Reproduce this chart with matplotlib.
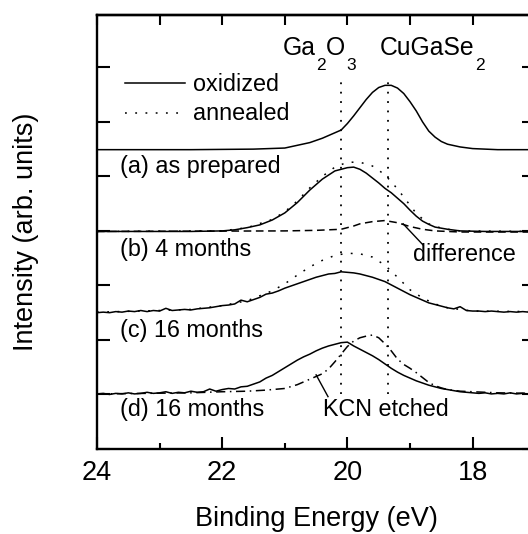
import matplotlib
matplotlib.use('Agg')
import matplotlib.pyplot as plt
from matplotlib.ticker import MultipleLocator, NullFormatter

plt.rcParams['font.family'] = ['Liberation Sans', 'DejaVu Sans']

# (a) as prepared, oxidized
e_a = [24.0, 22.5, 21.5, 21.0, 20.8, 20.6, 20.4, 20.2, 20.1, 20.0, 19.9, 19.8, 19.7, 19.6,
       19.5, 19.4, 19.3, 19.2, 19.1, 19.0, 18.9, 18.8, 18.7, 18.6, 18.5, 18.4, 18.2, 18.0,
       17.6, 17.0]
i_a = [5.49, 5.49, 5.50, 5.52, 5.57, 5.62, 5.70, 5.80, 5.85, 5.97, 6.11, 6.26, 6.41, 6.54,
       6.63, 6.67, 6.67, 6.62, 6.52, 6.37, 6.20, 6.00, 5.83, 5.72, 5.64, 5.59, 5.54, 5.51,
       5.49, 5.49]

# (b) 4 months: oxidized, annealed and their difference
e_b_ox = [24.0, 22.5, 22.0, 21.8, 21.6, 21.4, 21.2, 21.0, 20.8, 20.6, 20.4, 20.2, 20.0, 19.9,
          19.8, 19.7, 19.6, 19.5, 19.4, 19.3, 19.2, 19.1, 19.0, 18.9, 18.8, 18.7, 18.6, 18.4,
          18.2, 17.8, 17.0]
i_b_ox = [3.99, 3.99, 4.00, 4.02, 4.06, 4.11, 4.20, 4.33, 4.52, 4.75, 4.95, 5.10, 5.16, 5.17,
          5.13, 5.06, 4.97, 4.88, 4.78, 4.70, 4.60, 4.50, 4.38, 4.27, 4.18, 4.12, 4.07, 4.03,
          4.00, 3.99, 3.99]
e_b_an = [24.0, 22.0, 21.6, 21.2, 21.0, 20.8, 20.6, 20.4, 20.2, 20.0, 19.8, 19.6, 19.4, 19.2,
          19.0, 18.9, 18.8, 18.7, 18.6, 18.4, 18.2, 17.0]
i_b_an = [3.99, 4.00, 4.06, 4.21, 4.35, 4.55, 4.79, 5.00, 5.17, 5.26, 5.26, 5.19, 5.03, 4.77,
          4.47, 4.32, 4.22, 4.13, 4.08, 4.03, 4.00, 3.99]
e_b_diff = [24.0, 21.0, 20.5, 20.1, 19.9, 19.8, 19.6, 19.4, 19.2, 19.0, 18.8, 18.6, 18.2, 17.0]
i_b_diff = [3.99, 4.00, 4.01, 4.03, 4.09, 4.13, 4.17, 4.19, 4.15, 4.08, 4.03, 4.00, 3.98, 3.98]

# (c) 16 months, 0.1 eV steps from 24.0 down to 17.0
e_c = [round(24.0 - 0.1 * k, 1) for k in range(71)]
i_c_ox = [2.50, 2.51, 2.50, 2.52, 2.51, 2.53, 2.52, 2.54, 2.52, 2.54,
          2.53, 2.58, 2.54, 2.55, 2.56, 2.55, 2.57, 2.58, 2.59, 2.61,
          2.63, 2.64, 2.66, 2.73, 2.70, 2.74, 2.78, 2.84, 2.86, 2.90,
          2.95, 2.99, 3.03, 3.07, 3.11, 3.15, 3.18, 3.21, 3.22, 3.25,
          3.24, 3.23, 3.21, 3.18, 3.15, 3.11, 3.07, 3.01, 2.95, 2.89,
          2.83, 2.78, 2.73, 2.68, 2.65, 2.62, 2.59, 2.57, 2.61, 2.54,
          2.53, 2.53, 2.52, 2.53, 2.52, 2.51, 2.52, 2.51, 2.52, 2.51,
          2.52]
e_c_an = [24.0, 23.0, 22.5, 22.0, 21.6, 21.4, 21.2, 21.0, 20.8, 20.6, 20.4, 20.2, 20.0, 19.8,
          19.6, 19.4, 19.2, 19.0, 18.8, 18.6, 18.4, 18.0, 17.0]
i_c_an = [2.51, 2.54, 2.56, 2.63, 2.72, 2.81, 2.90, 3.03, 3.19, 3.34, 3.46, 3.55, 3.59, 3.58,
          3.52, 3.37, 3.15, 2.92, 2.77, 2.66, 2.59, 2.53, 2.52]

# (d) 16 months, oxidized and KCN etched
i_d_ox = [1.01, 1.02, 1.00, 1.02, 1.01, 1.03, 1.01, 1.02, 1.04, 1.02,
          1.03, 1.05, 1.02, 1.04, 1.03, 1.06, 1.04, 1.05, 1.10, 1.06,
          1.09, 1.11, 1.10, 1.14, 1.15, 1.19, 1.23, 1.30, 1.35, 1.42,
          1.49, 1.56, 1.63, 1.69, 1.74, 1.80, 1.85, 1.89, 1.92, 1.95,
          1.96, 1.89, 1.83, 1.77, 1.71, 1.64, 1.56, 1.48, 1.41, 1.35,
          1.30, 1.25, 1.21, 1.17, 1.14, 1.11, 1.09, 1.07, 1.05, 1.04,
          1.03, 1.02, 1.03, 1.01, 1.02, 1.01, 1.03, 1.01, 1.02, 1.00,
          1.01]
e_d_kcn = [24.0, 22.5, 22.0, 21.6, 21.3, 21.0, 20.8, 20.6, 20.4, 20.3, 20.2, 20.1, 20.0, 19.9,
           19.8, 19.7, 19.6, 19.5, 19.4, 19.3, 19.2, 19.1, 19.0, 18.9, 18.8, 18.7, 18.6, 18.5,
           18.4, 18.2, 18.0, 17.6, 17.0]
i_d_kcn = [1.01, 1.03, 1.05, 1.06, 1.08, 1.11, 1.18, 1.28, 1.38, 1.47, 1.60, 1.74, 1.88, 1.98,
           2.04, 2.07, 2.09, 2.04, 1.93, 1.80, 1.65, 1.55, 1.48, 1.40, 1.31, 1.22, 1.16, 1.12,
           1.09, 1.06, 1.05, 1.03, 1.02]

# reference peak positions
ga2o3_pos = 20.1
cugase2_pos = 19.35

dotted = (0, (1.2, 5.5))
fs = 16.8


def formula(ax, x, y, parts, size=17.8, subsize=12.5, drop=10.5):
    """Write a chemical formula piece by piece with deep subscripts."""
    prev = ax.text(x, y, parts[0], fontsize=size, va='baseline')
    for k, s in enumerate(parts[1:]):
        sub = k % 2 == 0
        prev = ax.annotate(s, xy=(1, y), xycoords=(prev, 'data'),
                           xytext=(0.8 if sub else 0.2, -drop if sub else 0),
                           textcoords='offset points', va='baseline', ha='left',
                           fontsize=subsize if sub else size)


fig = plt.figure(figsize=(5.28, 5.34), dpi=100)
ax = fig.add_axes([0.1837, 0.1592, 0.830, 0.8127])

ax.plot(e_a, i_a, color='k', lw=1.1)
ax.plot(e_b_ox, i_b_ox, color='k', lw=1.1)
ax.plot(e_b_an, i_b_an, color='k', lw=1.1, linestyle=dotted)
ax.plot(e_b_diff, i_b_diff, color='k', lw=1.1, linestyle=(0, (5, 3)))
ax.plot(e_c, i_c_ox, color='k', lw=1.1)
ax.plot(e_c_an, i_c_an, color='k', lw=1.1, linestyle=dotted)
ax.plot(e_c, i_d_ox, color='k', lw=1.1)
ax.plot(e_d_kcn, i_d_kcn, color='k', lw=1.1, linestyle=(0, (6, 3, 1, 3)))

# peak markers
ax.vlines([ga2o3_pos, cugase2_pos], 1.0, 6.86, colors='k', lw=1.3,
          linestyles=[(0, (1, 4.2))])

# legend drawn by hand
ax.plot([23.55, 22.59], [6.72, 6.72], color='k', lw=1.1)
ax.plot([23.55, 22.59], [6.17, 6.17], color='k', lw=1.1, linestyle=dotted)
ax.text(22.47, 6.56, 'oxidized', fontsize=fs)
ax.text(22.47, 6.04, 'annealed', fontsize=fs)

formula(ax, 21.04, 7.22, ['Ga', '2', 'O', '3'])
formula(ax, 19.49, 7.22, ['CuGaSe', '2'])

ax.text(23.63, 5.06, '(a) as prepared', fontsize=fs)
ax.text(23.63, 3.54, '(b) 4 months', fontsize=fs)
ax.text(23.63, 2.06, '(c) 16 months', fontsize=fs)
ax.text(23.63, 0.61, '(d) 16 months', fontsize=fs)

ax.text(18.96, 3.44, 'difference', fontsize=fs)
ax.plot([19.11, 18.79], [4.13, 3.74], color='k', lw=1.0)
ax.text(20.39, 0.61, 'KCN etched', fontsize=fs)
ax.plot([20.50, 20.31], [1.36, 0.96], color='k', lw=1.0)

ax.set_xlim(24, 17)
ax.set_ylim(0, 7.96)

ax.xaxis.set_major_locator(MultipleLocator(2))
ax.xaxis.set_minor_locator(MultipleLocator(1))
ax.yaxis.set_major_locator(MultipleLocator(1))
ax.yaxis.set_major_formatter(NullFormatter())
ax.tick_params(axis='x', which='major', direction='in', length=8.6, width=1.5,
               labelsize=19.5, pad=8, top=False)
ax.tick_params(axis='x', which='minor', direction='in', length=4.3, width=1.5, top=False)
ax.tick_params(axis='y', which='major', direction='in', length=9.4, width=1.5,
               left=True, right=True)

top = ax.secondary_xaxis('top')
top.xaxis.set_major_locator(MultipleLocator(1))
top.xaxis.set_major_formatter(NullFormatter())
top.tick_params(direction='in', length=7, width=1.5)
top.spines['top'].set_linewidth(1.7)

for s in ax.spines.values():
    s.set_linewidth(1.7)

ax.set_xlabel('Binding Energy (eV)', fontsize=19.5, labelpad=14)
ax.set_ylabel('Intensity (arb. units)', fontsize=19.5, labelpad=38)

fig.savefig('out.png', dpi=100)
